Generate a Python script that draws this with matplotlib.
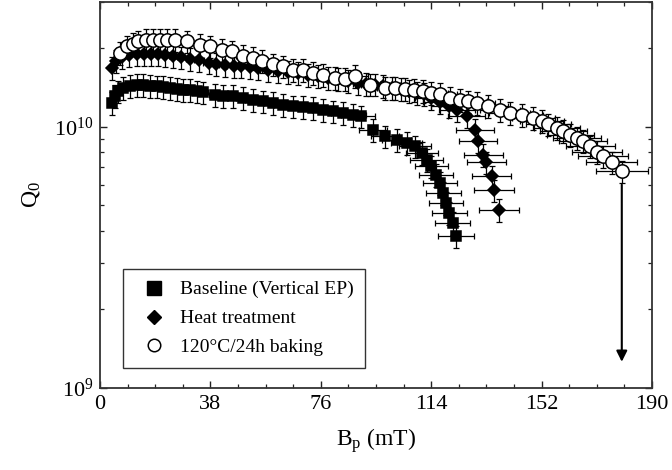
import matplotlib
matplotlib.use("Agg")
import matplotlib.pyplot as plt
import numpy as np
from matplotlib.lines import Line2D
from matplotlib.ticker import LogLocator, FixedLocator, NullFormatter, LogFormatterMathtext

plt.rcParams['font.family'] = ['Liberation Serif', 'DejaVu Serif']
plt.rcParams['mathtext.fontset'] = 'custom'
plt.rcParams['mathtext.rm'] = 'Liberation Serif'
plt.rcParams['mathtext.it'] = 'Liberation Serif:italic'

# ---- data (B_p in mT, Q0) ----
baseline_B = [4.0, 5.2, 6.3, 8.0, 10.3, 12.6, 14.9, 17.2, 19.5, 21.8, 24.1, 26.4, 28.7, 31.0,
              33.3, 35.5, 39.6, 42.4, 45.9, 49.3, 52.7, 56.2, 59.6, 63.1, 66.5, 69.9, 73.4,
              76.9, 80.3, 83.7, 87.2, 90.0, 94.0, 98.1, 102.1, 105.5, 108.4, 110.7, 112.4,
              114.1, 115.7, 117.0, 118.2, 119.1, 120.2, 121.4, 122.5]
baseline_Q = [1.232e10, 1.307e10, 1.365e10, 1.407e10, 1.436e10, 1.449e10, 1.449e10, 1.436e10,
              1.427e10, 1.420e10, 1.407e10, 1.395e10, 1.386e10, 1.378e10, 1.365e10, 1.353e10,
              1.326e10, 1.315e10, 1.307e10, 1.288e10, 1.269e10, 1.250e10, 1.232e10, 1.214e10,
              1.196e10, 1.190e10, 1.179e10, 1.162e10, 1.144e10, 1.128e10, 1.112e10, 1.095e10,
              9.74e9, 9.18e9, 8.92e9, 8.69e9, 8.41e9, 7.95e9, 7.47e9, 7.05e9, 6.55e9, 6.10e9,
              5.59e9, 5.11e9, 4.68e9, 4.29e9, 3.80e9]

heat_B = [4.0, 5.5, 7.5, 10.0, 12.6, 15.0, 17.5, 20.0, 22.5, 25.0, 28.0, 31.0, 34.0, 37.4,
          40.0, 43.0, 46.0, 48.7, 51.5, 54.4, 57.8, 61.3, 64.7, 68.2, 71.6, 75.1, 78.5, 82.0,
          85.4, 88.9, 91.7, 94.6, 97.5, 100.5, 103.5, 106.5, 109.0, 111.5, 114.0, 117.0,
          120.0, 122.8, 126.2, 129.0, 130.2, 132.0, 133.0, 134.8, 135.6, 137.4]
heat_Q = [1.68e10, 1.78e10, 1.85e10, 1.88e10, 1.89e10, 1.90e10, 1.90e10, 1.89e10, 1.88e10,
          1.86e10, 1.84e10, 1.82e10, 1.80e10, 1.76e10, 1.74e10, 1.72e10, 1.71e10, 1.70e10,
          1.69e10, 1.68e10, 1.65e10, 1.63e10, 1.62e10, 1.61e10, 1.58e10, 1.56e10, 1.54e10,
          1.52e10, 1.50e10, 1.47e10, 1.46e10, 1.45e10, 1.43e10, 1.41e10, 1.39e10, 1.37e10,
          1.35e10, 1.33e10, 1.29e10, 1.24e10, 1.20e10, 1.16e10, 1.10e10, 9.7e9, 8.8e9, 7.8e9,
          7.3e9, 6.45e9, 5.7e9, 4.8e9]

bake_B = [6.9, 9.2, 11.2, 13.2, 16.0, 18.3, 20.7, 23.0, 25.8, 29.8, 34.4, 37.9, 41.9, 45.3,
          49.3, 52.8, 55.6, 59.6, 63.1, 66.5, 70.0, 73.4, 76.9, 80.9, 84.3, 87.8, 92.9, 98.1,
          101.5, 105.0, 108.0, 111.3, 114.0, 117.0, 120.5, 124.0, 126.8, 129.6, 133.6, 137.7,
          141.1, 145.1, 149.1, 152.0, 154.3, 157.2, 159.5, 161.8, 164.1, 166.3, 168.7, 171.0,
          173.2, 176.1, 179.6]
bake_Q = [1.91e10, 2.03e10, 2.08e10, 2.12e10, 2.15e10, 2.15e10, 2.15e10, 2.15e10, 2.15e10,
          2.12e10, 2.06e10, 2.03e10, 1.97e10, 1.94e10, 1.86e10, 1.83e10, 1.78e10, 1.73e10,
          1.70e10, 1.65e10, 1.65e10, 1.61e10, 1.58e10, 1.54e10, 1.52e10, 1.56e10, 1.45e10,
          1.41e10, 1.41e10, 1.39e10, 1.38e10, 1.37e10, 1.35e10, 1.33e10, 1.29e10, 1.27e10,
          1.25e10, 1.23e10, 1.20e10, 1.16e10, 1.13e10, 1.11e10, 1.08e10, 1.05e10, 1.02e10,
          9.9e9, 9.6e9, 9.3e9, 9.05e9, 8.8e9, 8.4e9, 8.0e9, 7.7e9, 7.3e9, 6.74e9]

quench_arrow_end = 1.26e9          # arrow tip (Q0) below last baked point
x_rel_err = 0.05                   # relative error on B_p
y_rel_err = 0.10                   # relative error on Q0

labels = ['Baseline (Vertical EP)', 'Heat treatment', '120\u00b0C/24h baking']
x_ticks = [0, 38, 76, 114, 152, 190]

# ---- figure ----
fig = plt.figure(figsize=(6.72, 4.70), dpi=100)
ax = fig.add_axes([100/672, 1-388/470, 552/672, 386/470])

def draw(B, Q, marker, ms, face, z):
    B = np.asarray(B); Q = np.asarray(Q)
    ax.errorbar(B, Q, xerr=B*x_rel_err, yerr=Q*y_rel_err, fmt='none', ecolor='black',
                elinewidth=0.9, capsize=2.5, capthick=0.9, zorder=z)
    ax.plot(B, Q, linestyle='none', marker=marker, ms=ms, mfc=face, mec='black',
            mew=1.1, zorder=z+0.5)

draw(baseline_B, baseline_Q, 's', 7.6, 'black', 2)
draw(heat_B, heat_Q, 'D', 6.6, 'black', 3)
draw(bake_B, bake_Q, 'o', 9.6, 'white', 4)

ax.annotate('', xy=(bake_B[-1], quench_arrow_end), xytext=(bake_B[-1], bake_Q[-1]*0.89),
            arrowprops=dict(arrowstyle='-|>', color='black', lw=1.5, mutation_scale=16,
                            shrinkA=0, shrinkB=0), zorder=5)

ax.set_yscale('log')
ax.set_xlim(0, 190)
ax.set_ylim(1e9, 3e10)
ax.set_xticks(x_ticks)
ax.set_xticklabels([str(t) for t in x_ticks])
ax.xaxis.set_minor_locator(FixedLocator(np.arange(0, 190.1, 9.5)))
ax.yaxis.set_major_locator(LogLocator(base=10, numticks=10))
ax.yaxis.set_major_formatter(LogFormatterMathtext())
ax.yaxis.set_minor_locator(LogLocator(base=10, subs=np.arange(2, 10), numticks=20))
ax.yaxis.set_minor_formatter(NullFormatter())

ax.tick_params(which='both', direction='in', top=True, right=True, colors='#222222',
               labelcolor='black')
ax.tick_params(which='major', length=5, width=1.0, labelsize=16, pad=5)
ax.tick_params(which='minor', length=3, width=0.9)
for s in ax.spines.values():
    s.set_linewidth(1.3)
    s.set_color('#333333')

ax.set_xlabel('B$_\\mathregular{p}$ (mT)', fontsize=17)
ax.set_ylabel('Q$_\\mathregular{0}$', fontsize=17)
ax.xaxis.set_label_coords(0.5, -0.10)
ax.yaxis.set_label_coords(-0.105, 0.5)

handles = [
    Line2D([], [], linestyle='none', marker='s', ms=10, mfc='black', mec='black'),
    Line2D([], [], linestyle='none', marker='D', ms=7, mfc='black', mec='black'),
    Line2D([], [], linestyle='none', marker='o', ms=9, mfc='white', mec='black', mew=1.1),
]
leg = ax.legend(handles, labels, loc='upper left', bbox_to_anchor=(0.042, 0.308),
                borderaxespad=0, fontsize=14, frameon=True, fancybox=False,
                edgecolor='black', handlelength=2.0, handletextpad=0.3,
                labelspacing=0.58, borderpad=0.6)
leg.get_frame().set_linewidth(1.0)

fig.savefig('out.png', dpi=100)
